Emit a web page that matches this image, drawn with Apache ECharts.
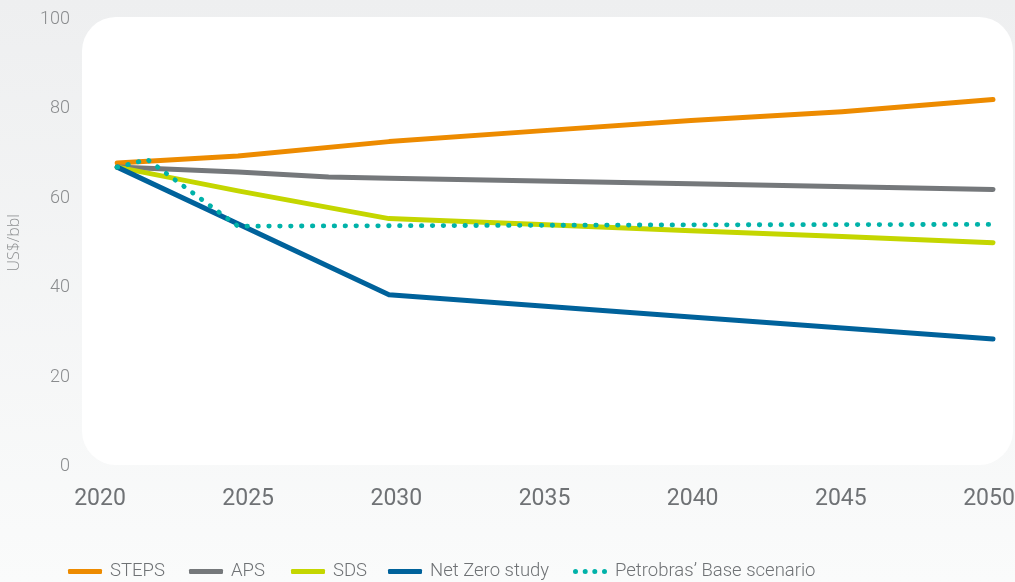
<!DOCTYPE html>
<html>
<head>
<meta charset="utf-8">
<script src="https://cdn.jsdelivr.net/npm/echarts@6/dist/echarts.min.js"></script>
<style>
html,body{margin:0;padding:0;background:#fff;}
#chart{width:1015px;height:582px;}
</style>
</head>
<body>
<div id="chart"></div>
<script>
// ---- data ----
var seriesNames = ['STEPS', 'APS', 'SDS', 'Net Zero study', 'Petrobras\u2019 Base scenario'];
var xTickLabels = ['2020', '2025', '2030', '2035', '2040', '2045', '2050'];
var yTickLabels = ['0', '20', '40', '60', '80', '100'];

var stepsYears = [2021, 2025, 2030, 2035, 2040, 2045, 2050];
var stepsValues = [67.8, 69.4, 72.6, 75.0, 77.3, 79.3, 82.0];

var apsYears = [2021, 2025, 2028, 2030, 2040, 2050];
var apsValues = [66.9, 65.8, 64.7, 64.4, 63.2, 61.9];

var sdsYears = [2021, 2025, 2030, 2035, 2040, 2045, 2050];
var sdsValues = [66.9, 61.6, 55.4, 54.1, 52.7, 51.4, 50.0];

var nzYears = [2021, 2030, 2040, 2050];
var nzValues = [66.9, 38.4, 33.4, 28.5];

var pbrYears = [2021, 2022, 2025, 2030, 2040, 2050];
var pbrValues = [66.9, 68.6, 53.7, 53.8, 54.0, 54.1];

var colors = ['#ED8B00', '#75787B', '#C4D600', '#00629B', '#00B2A9'];

function pairs(xs, ys) {
  return xs.map(function (x, i) { return [x, ys[i]]; });
}

var chart = echarts.init(document.getElementById('chart'), null, {renderer: 'canvas'});

var textFont = 'Roboto';
var textGray = '#6F7275';

function solidSeries(idx, xs, ys) {
  return {
    name: seriesNames[idx],
    type: 'line',
    xAxisIndex: 0,
    yAxisIndex: 0,
    data: pairs(xs, ys),
    symbol: 'none',
    smooth: false,
    lineStyle: {color: colors[idx], width: 5, cap: 'round', join: 'round'},
    itemStyle: {color: colors[idx]},
    z: 2 + idx
  };
}

var legendLefts = [68, 189, 291, 388, 573];
var dotIcon = 'path://M0,2.5A2.5,2.5 0 1 0 5,2.5A2.5,2.5 0 1 0 0,2.5Z M9.7,2.5A2.5,2.5 0 1 0 14.7,2.5A2.5,2.5 0 1 0 9.7,2.5Z M19.3,2.5A2.5,2.5 0 1 0 24.3,2.5A2.5,2.5 0 1 0 19.3,2.5Z M29,2.5A2.5,2.5 0 1 0 34,2.5A2.5,2.5 0 1 0 29,2.5Z';

var legends = seriesNames.map(function (n, i) {
  return {
    data: [{name: n, icon: i === 4 ? dotIcon : 'roundRect', itemStyle: {color: colors[i]}}],
    left: legendLefts[i],
    top: 562,
    padding: 0,
    itemWidth: 34,
    itemHeight: 5,
    selectedMode: false,
    textStyle: {
      fontFamily: textFont,
      fontWeight: 300,
      fontSize: 18.5,
      color: textGray,
      padding: [0, 0, 0, 3]
    }
  };
});

var option = {
  animation: false,
  backgroundColor: {
    type: 'linear', x: 0, y: 0, x2: 0, y2: 1,
    colorStops: [
      {offset: 0, color: '#EEEFF0'},
      {offset: 1, color: '#FAFBFB'}
    ]
  },
  graphic: [{
    type: 'rect',
    z: -10,
    silent: true,
    shape: {x: 82, y: 17, width: 931, height: 448, r: 34},
    style: {fill: '#FFFFFF'}
  }],
  legend: legends,
  grid: [
    {left: 87, right: 22, top: 19, bottom: 115.5, containLabel: false, outerBoundsMode: 'none'},
    {left: 100, right: 26, top: 19, bottom: 115.5, containLabel: false, outerBoundsMode: 'none'}
  ],
  xAxis: [
    {
      type: 'value', gridIndex: 0, min: 2020, max: 2050,
      show: false
    },
    {
      type: 'value', gridIndex: 1, min: 2020, max: 2050, interval: 5,
      axisLine: {show: false},
      axisTick: {show: false},
      splitLine: {show: false},
      axisLabel: {
        margin: 21,
        fontFamily: textFont,
        fontSize: 23,
        color: textGray,
        formatter: function (v) {
          var i = Math.round((v - 2020) / 5);
          return xTickLabels[i] !== undefined ? xTickLabels[i] : '';
        }
      }
    }
  ],
  yAxis: [
    {
      type: 'value', gridIndex: 0, min: 0, max: 100, interval: 20,
      name: 'US$/bbl',
      nameLocation: 'middle',
      nameRotate: 90,
      nameGap: 65,
      nameTextStyle: {fontFamily: 'Open Sans', fontSize: 16, fontWeight: 300, color: '#8E9092'},
      axisLine: {show: false},
      axisTick: {show: false},
      splitLine: {show: false},
      axisLabel: {
        margin: 17,
        fontFamily: textFont,
        fontWeight: 300,
        fontSize: 18,
        color: '#8A8C8E',
        formatter: function (v) {
          var i = Math.round(v / 20);
          return yTickLabels[i] !== undefined ? yTickLabels[i] : '';
        }
      }
    },
    {
      type: 'value', gridIndex: 1, min: 0, max: 100, show: false
    }
  ],
  series: [
    solidSeries(0, stepsYears, stepsValues),
    solidSeries(1, apsYears, apsValues),
    solidSeries(2, sdsYears, sdsValues),
    solidSeries(3, nzYears, nzValues),
    {
      name: seriesNames[4],
      type: 'line',
      xAxisIndex: 0,
      yAxisIndex: 0,
      data: pairs(pbrYears, pbrValues),
      symbol: 'none',
      lineStyle: {color: colors[4], width: 4.8, type: [0.5, 10.4], cap: 'round', join: 'round'},
      itemStyle: {color: colors[4]},
      z: 10
    }
  ]
};

chart.setOption(option);
</script>
</body>
</html>
